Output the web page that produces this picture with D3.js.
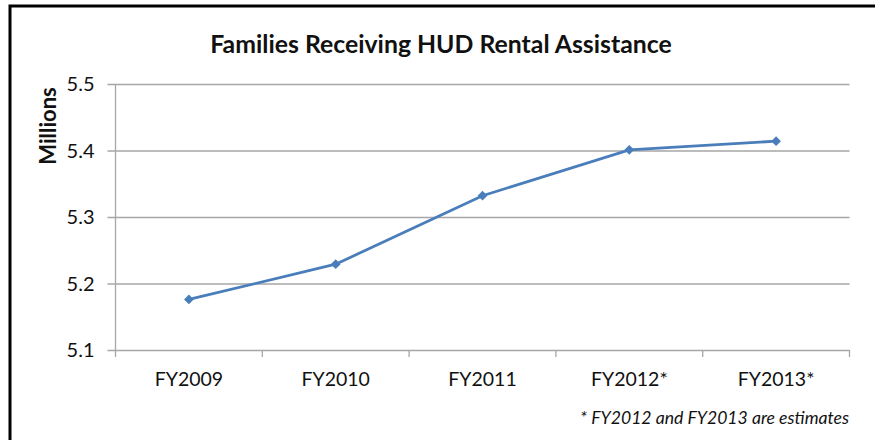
<!DOCTYPE html>
<html>
<head>
<meta charset="UTF-8">
<title>HUD Rental Assistance</title>
<script src="https://d3js.org/d3.v7.min.js"></script>
<style>
  * { margin: 0; padding: 0; box-sizing: border-box; }
  body { background: #fff; font-family: Lato, "Open Sans", sans-serif; }
  #chart { width: 875px; height: 440px; }
  svg text { font-family: Lato, "Open Sans", sans-serif; }
</style>
</head>
<body>
<div id="chart"></div>
<script>
const years = ["FY2009", "FY2010", "FY2011", "FY2012*", "FY2013*"];
const families = [5.176, 5.229, 5.332, 5.401, 5.414];
const yTicks = [5.1, 5.2, 5.3, 5.4, 5.5];

const W = 875, H = 440;
const margin = {top: 84, right: 26, bottom: 90, left: 115.5};
const width = 849.5 - margin.left, height = 350 - margin.top;

const svg = d3.select("#chart").append("svg")
  .attr("width", W).attr("height", H);

// outer frame (only top and left edges visible)
svg.append("rect")
  .attr("x", 10).attr("y", 6)
  .attr("width", W + 20).attr("height", H + 20)
  .attr("fill", "none").attr("stroke", "#000").attr("stroke-width", 3);

const g = svg.append("g").attr("transform", `translate(${margin.left},${margin.top})`);

const x = d3.scaleBand().domain(years).range([0, width]);
const y = d3.scaleLinear().domain([5.1, 5.5]).range([height, 0]);

// horizontal gridlines + y axis
const yAxis = g.append("g")
  .call(d3.axisLeft(y).tickValues(yTicks).tickFormat(d3.format(".1f"))
    .tickSize(-width).tickPadding(21));
yAxis.attr("font-family", null);
yAxis.select(".domain").remove();
yAxis.selectAll(".tick line")
  .attr("x1", -8).attr("stroke", "#a6a6a6").attr("stroke-width", 1.3);
yAxis.selectAll("text").style("font-size", "20px").attr("fill", "#111").attr("dy", "0.33em");

g.append("line")
  .attr("x1", 0).attr("x2", 0).attr("y1", 0).attr("y2", height + 7)
  .attr("stroke", "#a6a6a6").attr("stroke-width", 1.3);

// category axis with tick marks on band boundaries
const xAxis = g.append("g").attr("transform", `translate(0,${height})`)
  .call(d3.axisBottom(x).tickSize(0).tickPadding(22));
xAxis.attr("font-family", null);
xAxis.select(".domain").remove();
xAxis.selectAll("text").style("font-size", "19.5px").attr("fill", "#111");
g.selectAll(".xtick")
  .data(years)
  .enter().append("line")
  .attr("class", "xtick")
  .attr("x1", d => x(d) + x.bandwidth()).attr("x2", d => x(d) + x.bandwidth())
  .attr("y1", height).attr("y2", height + 7)
  .attr("stroke", "#a6a6a6").attr("stroke-width", 1.3);

// data line
const line = d3.line()
  .x((d, i) => x(years[i]) + x.bandwidth() / 2)
  .y(d => y(d));

g.append("path")
  .datum(families)
  .attr("d", line)
  .attr("fill", "none")
  .attr("stroke", "#4a7ebb")
  .attr("stroke-width", 2.8);

g.selectAll(".marker")
  .data(families)
  .enter().append("path")
  .attr("class", "marker")
  .attr("d", d3.symbol(d3.symbolDiamond2, 60))
  .attr("transform", (d, i) => `translate(${x(years[i]) + x.bandwidth() / 2},${y(d)})`)
  .attr("fill", "#4a7ebb");

// title
svg.append("text")
  .attr("x", 441).attr("y", 53)
  .attr("text-anchor", "middle")
  .style("font-size", "24.8px").style("font-weight", "bold")
  .attr("fill", "#111")
  .text("Families Receiving HUD Rental Assistance");

// y axis title
svg.append("text")
  .attr("transform", "translate(56,126) rotate(-90)")
  .attr("text-anchor", "middle")
  .style("font-size", "22px").style("font-weight", "bold")
  .attr("fill", "#111")
  .text("Millions");

// footnote
svg.append("text")
  .attr("x", 849).attr("y", 424)
  .attr("text-anchor", "end")
  .style("font-size", "17.6px").style("font-style", "italic")
  .attr("fill", "#111")
  .text("* FY2012 and FY2013 are estimates");
</script>
</body>
</html>
